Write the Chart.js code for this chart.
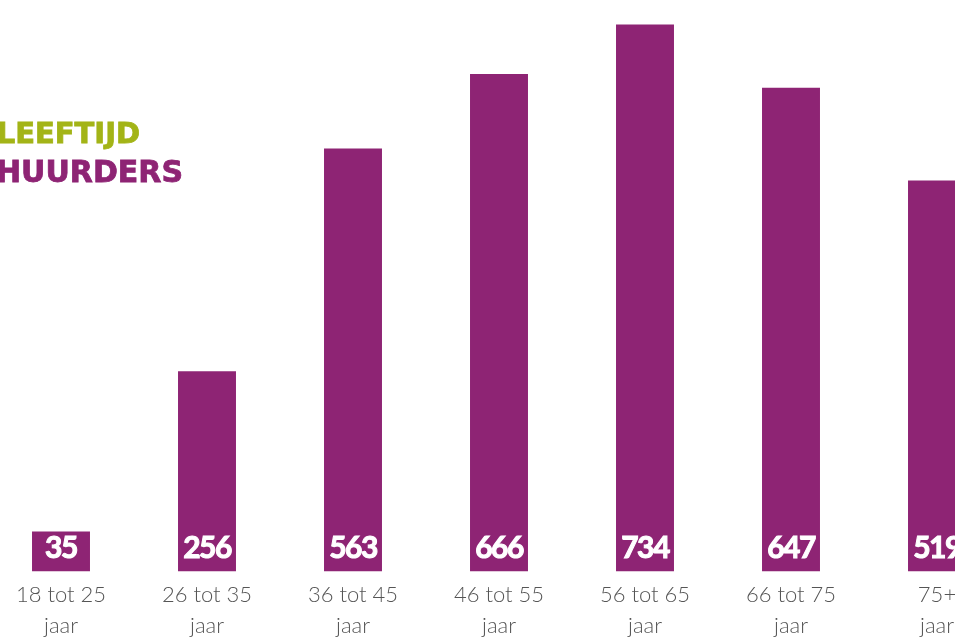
<!DOCTYPE html>
<html>
<head>
<meta charset="utf-8">
<script src="https://cdn.jsdelivr.net/npm/chart.js@4.4.1/dist/chart.umd.min.js"></script>
<style>
    html, body { margin: 0; padding: 0; background: #ffffff; }
    body { width: 955px; height: 640px; overflow: hidden; position: relative; }
    #wrap { position: absolute; left: -12px; top: 0; width: 1022px; height: 640px; }
    .title {
        position: absolute; white-space: nowrap; text-align: right; line-height: 1;
        font-family: 'DejaVu Sans', sans-serif; font-weight: bold;
    }
    #t1 { right: 815px; top: 119px; font-size: 29px; color: #a3b417; -webkit-text-stroke: 0.8px #a3b417; }
    #t2 { right: 772px; top: 157px; font-size: 30px; color: #8e2474; -webkit-text-stroke: 0.8px #8e2474; }
</style>
</head>
<body>
<div id="wrap"><canvas id="chart"></canvas></div>
<div class="title" id="t1">LEEFTIJD</div>
<div class="title" id="t2">HUURDERS</div>
<script>
// data
const categories = [
    ['18 tot 25', 'jaar'],
    ['26 tot 35', 'jaar'],
    ['36 tot 45', 'jaar'],
    ['46 tot 55', 'jaar'],
    ['56 tot 65', 'jaar'],
    ['66 tot 75', 'jaar'],
    ['75+', 'jaar']
];
const huurders = [35, 256, 563, 666, 734, 647, 519];

const PURPLE = '#8e2474';

// white numbers at the foot of each bar
const valueLabels = {
    id: 'valueLabels',
    afterDatasetsDraw(chart) {
        const ctx = chart.ctx;
        const meta = chart.getDatasetMeta(0);
        const bottom = chart.chartArea.bottom;
        ctx.save();
        ctx.fillStyle = '#ffffff';
        ctx.strokeStyle = '#ffffff';
        ctx.lineWidth = 1;
        ctx.font = 'bold 30px Lato';
        ctx.letterSpacing = '-1.5px';
        ctx.textAlign = 'center';
        ctx.textBaseline = 'alphabetic';
        meta.data.forEach((bar, i) => {
            ctx.fillText(String(huurders[i]), bar.x, bottom - 13);
            ctx.strokeText(String(huurders[i]), bar.x, bottom - 13);
        });
        ctx.restore();
    }
};

const ctx = document.getElementById('chart').getContext('2d');
new Chart(ctx, {
    type: 'bar',
    data: {
        labels: categories,
        datasets: [{
            label: 'Huurders',
            data: huurders,
            backgroundColor: PURPLE,
            borderWidth: 0,
            base: -20,
            barPercentage: 0.397,
            categoryPercentage: 1
        }]
    },
    options: {
        responsive: true,
        maintainAspectRatio: false,
        animation: false,
        layout: { padding: { top: 13, left: 0, right: 0, bottom: -9 } },
        plugins: {
            legend: { display: false },
            tooltip: { enabled: false }
        },
        scales: {
            x: {
                grid: { display: false, drawTicks: false },
                border: { display: false },
                ticks: {
                    color: '#555555',
                    padding: 8,
                    maxRotation: 0,
                    autoSkip: false,
                    font: { family: 'Lato', weight: '300', size: 22, lineHeight: 1.4 }
                }
            },
            y: {
                display: false,
                min: -20,
                max: 750
            }
        }
    },
    plugins: [valueLabels]
});
</script>
</body>
</html>
